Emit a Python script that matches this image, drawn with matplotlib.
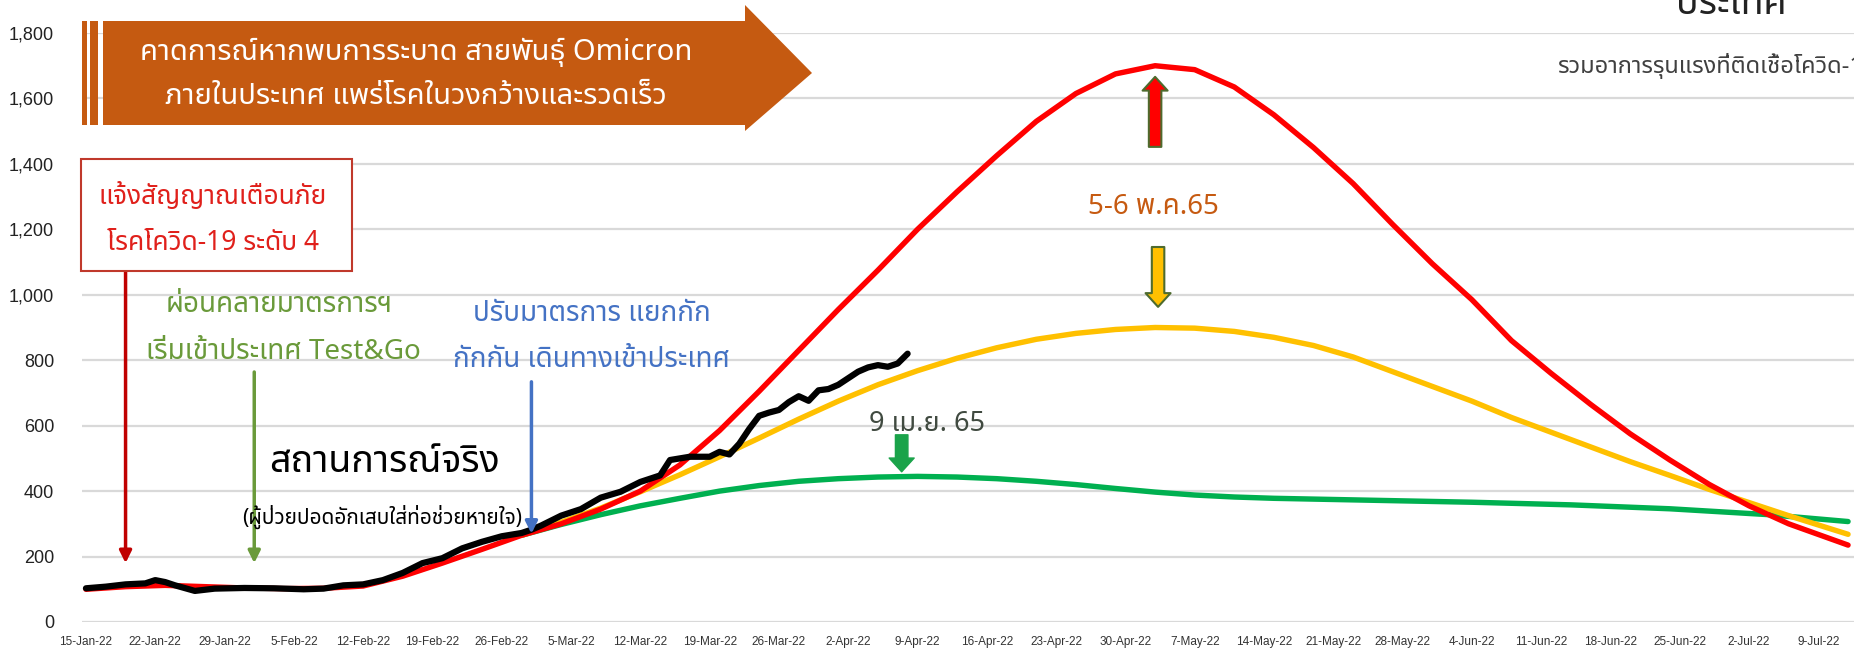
import numpy as np
import matplotlib
matplotlib.use('agg')
import matplotlib.pyplot as plt  # noqa: E402
import matplotlib.dates as mdates  # noqa: E402
from matplotlib import font_manager  # noqa: E402
from matplotlib.ft2font import FT2Font  # noqa: E402
from matplotlib.patches import Polygon, Rectangle  # noqa: E402
from matplotlib.ticker import FuncFormatter, FixedLocator  # noqa: E402

# ---- data (day offsets from 15-Jan-22, patients) ----
start_date = np.datetime64('2022-01-15')
n_weeks = 26

actual_days = [0, 2, 4, 6, 7, 8, 9, 11, 13, 16, 19, 22, 24, 26, 28, 30, 32, 34,
               36, 38, 40, 42, 44, 45, 46, 48, 50, 52, 54, 56, 58, 59, 61, 63,
               64, 65, 66, 67, 68, 69, 70, 71, 72, 73, 74, 75, 76, 77, 78, 79,
               80, 81, 82, 83]
actual_vals = [103, 108, 115, 118, 128, 122, 112, 95, 102, 104, 103, 100, 102,
               112, 115, 128, 150, 180, 195, 225, 245, 262, 272, 282, 295, 325,
               345, 380, 398, 428, 448, 495, 505, 505, 520, 512, 545, 590, 630,
               640, 648, 672, 690, 676, 708, 712, 725, 745, 765, 778, 785, 780,
               790, 820]

red_days = [0, 4, 8, 12, 16, 20, 24, 28, 32, 36, 40, 44, 48, 52, 56, 60, 64,
            68, 72, 76, 80, 84, 88, 92, 96, 100, 104, 108, 112, 116, 120, 124,
            128, 132, 136, 140, 144, 148, 152, 156, 160, 164, 168, 172, 178]
red_vals = [100, 108, 112, 108, 104, 102, 103, 110, 140, 180, 222, 265, 300,
            345, 400, 480, 585, 705, 830, 955, 1075, 1200, 1315, 1425, 1530,
            1615, 1675, 1700, 1688, 1635, 1550, 1450, 1340, 1215, 1095, 985,
            860, 760, 665, 575, 495, 420, 355, 300, 235]

yellow_days = [44, 48, 52, 56, 60, 64, 68, 72, 76, 80, 84, 88, 92, 96, 100,
               104, 108, 112, 116, 120, 124, 128, 132, 136, 140, 144, 148, 152,
               156, 160, 164, 168, 172, 178]
yellow_vals = [265, 305, 348, 398, 450, 505, 562, 620, 675, 725, 768, 806, 838,
               864, 882, 894, 900, 898, 888, 870, 845, 810, 765, 720, 675, 625,
               580, 535, 490, 448, 405, 365, 325, 268]

green_days = [44, 48, 52, 56, 60, 64, 68, 72, 76, 80, 84, 88, 92, 96, 100, 104,
              108, 112, 116, 120, 130, 140, 150, 160, 170, 178]
green_vals = [265, 298, 328, 355, 378, 400, 417, 430, 438, 443, 445, 443, 438,
              430, 420, 408, 397, 388, 382, 378, 372, 366, 358, 346, 328, 307]

y_ticks = [0, 200, 400, 600, 800, 1000, 1200, 1400, 1600, 1800]


def thai_font():
    wanted = ['Tahoma', 'Leelawadee UI', 'Noto Sans Thai', 'Noto Sans Thai UI',
              'Noto Looped Thai', 'Sarabun', 'Loma', 'Garuda', 'Waree',
              'Umpush', 'Kinnari', 'Norasi', 'Laksaman', 'Tlwg Typo']
    names = {f.name: f.fname for f in font_manager.fontManager.ttflist}
    for w in wanted:
        if w in names:
            return w
    for f in font_manager.fontManager.ttflist:
        try:
            if 0x0E01 in FT2Font(f.fname).get_charmap():
                return f.name
        except Exception:
            pass
    return 'DejaVu Sans'


TH = [thai_font(), 'DejaVu Sans']
x0 = mdates.date2num(start_date)


def X(days):
    return x0 + np.asarray(days, dtype=float)


def date_label(v, pos):
    d = mdates.num2date(v)
    return '{}-{}'.format(d.day, d.strftime('%b-%y'))


fig = plt.figure(figsize=(18.54, 6.49), dpi=100)
ax = fig.add_axes([82 / 1854, 27 / 649, (1854 - 82) / 1854, 589 / 649])
ax.set_xlim(x0 - 0.4, x0 + 178.6)
ax.set_ylim(0, 1800)

# grid
ax.set_yticks(y_ticks)
ax.yaxis.grid(True, color='#d9d9d9', lw=1.6)
ax.set_axisbelow(True)
for s in ax.spines.values():
    s.set_visible(False)
ax.yaxis.set_major_formatter(FuncFormatter(lambda v, p: f'{int(v):,}'))
ax.tick_params(axis='y', length=0, pad=20, labelsize=13, labelcolor='#222222')
ax.xaxis.set_major_locator(FixedLocator(X(np.arange(n_weeks) * 7)))
ax.xaxis.set_major_formatter(FuncFormatter(date_label))
ax.tick_params(axis='x', length=0, pad=10, labelsize=8.5, labelcolor='#333333')
for lab in ax.get_yticklabels() + ax.get_xticklabels():
    lab.set_family(['Liberation Sans Narrow', 'Liberation Sans', 'DejaVu Sans'])

# lines
ax.plot(X(green_days), green_vals, color='#00b050', lw=3.9, solid_capstyle='round', zorder=3)
ax.plot(X(yellow_days), yellow_vals, color='#ffc000', lw=3.9, solid_capstyle='round', zorder=4)
ax.plot(X(red_days), red_vals, color='#ff0000', lw=3.9, solid_capstyle='round', zorder=5)
ax.plot(X(actual_days), actual_vals, color='black', lw=4.5, solid_capstyle='round',
        solid_joinstyle='round', zorder=6)


# banner arrow (figure pixels)
def fp(x, y):
    return (x / 1854, 1 - y / 649)


banner = Polygon([fp(103, 21), fp(745, 21), fp(745, 5), fp(812, 73), fp(745, 131),
                  fp(745, 125), fp(103, 125)], closed=True, transform=fig.transFigure,
                 fc='#c55a11', ec='none', zorder=10)
fig.patches.append(banner)
for xa, xb in [(82, 87), (90, 98)]:
    fig.patches.append(Rectangle(fp(xa, 125), (xb - xa) / 1854, 104 / 649,
                                 transform=fig.transFigure, fc='#c55a11', ec='none'))
fig.text(*fp(416, 52), 'คาดการณ์หากพบการระบาด สายพันธุ์ Omicron', color='white',
         fontsize=21, ha='center', va='center', family=TH, zorder=11)
fig.text(*fp(416, 96), 'ภายในประเทศ แพร่โรคในวงกว้างและรวดเร็ว', color='white',
         fontsize=21, ha='center', va='center', family=TH, zorder=11)

# top right texts (partly cut, as in the source)
fig.text(*fp(1732, 14), 'ประเทศ', color='#222222', fontsize=27, fontweight='bold',
         ha='center', va='baseline', family=TH)
fig.text(*fp(1557, 66), 'รวมอาการรุนแรงที่ติดเชื้อโควิด-19', color='#404040',
         fontsize=17, ha='left', va='center', family=TH)

# red warning box
ax.add_patch(Rectangle((X(-0.5), 1073), 27.4, 342, fc='white', ec='#c0392b', lw=1.5,
                       zorder=8, clip_on=False))
ax.text(X(12.8), 1299, 'แจ้งสัญญาณเตือนภัย', color='#e0201b', fontsize=19,
        ha='center', va='center', family=TH, zorder=9)
ax.text(X(12.8), 1158, 'โรคโควิด-19 ระดับ 4', color='#e0201b', fontsize=19,
        ha='center', va='center', family=TH, zorder=9)

thin = dict(arrowstyle='-|>', lw=2.5, mutation_scale=18, shrinkA=0, shrinkB=0)
ax.annotate('', xy=(X(4), 180), xytext=(X(4), 1073),
            arrowprops=dict(color='#c00000', **thin), zorder=7)
ax.annotate('', xy=(X(17), 180), xytext=(X(17), 764),
            arrowprops=dict(color='#6a9a3a', **thin), zorder=7)
ax.annotate('', xy=(X(45), 270), xytext=(X(45), 734),
            arrowprops=dict(color='#4472c4', **thin), zorder=7)

ax.text(X(19.5), 969, 'ผ่อนคลายมาตรการฯ', color='#6a9a3a', fontsize=20,
        ha='center', va='center', family=TH)
ax.text(X(19.9), 825, 'เริ่มเข้าประเทศ Test&Go', color='#6a9a3a', fontsize=20,
        ha='center', va='center', family=TH)
ax.text(X(51.1), 940, 'ปรับมาตรการ แยกกัก', color='#4472c4', fontsize=20,
        ha='center', va='center', family=TH)
ax.text(X(51.1), 800, 'กักกัน เดินทางเข้าประเทศ', color='#4472c4', fontsize=20,
        ha='center', va='center', family=TH)

ax.text(X(30.2), 490, 'สถานการณ์จริง', color='black', fontsize=27,
        ha='center', va='center', family=TH, zorder=9)
ax.text(X(29.9), 321, '(ผู้ป่วยปอดอักเสบใส่ท่อช่วยหายใจ)', color='black', fontsize=15,
        ha='center', va='center', family=TH, zorder=9)

# peak markers
block = 'simple,head_length=0.55,head_width=1.0,tail_width=0.5'
ax.annotate('', xy=(X(82.4), 459), xytext=(X(82.4), 572),
            arrowprops=dict(arrowstyle=block, mutation_scale=18, fc='#1aa34a',
                            ec='#1aa34a', lw=1, shrinkA=0, shrinkB=0), zorder=9)
ax.text(X(85), 605, '9 เม.ย. 65', color='#404a40', fontsize=19.5,
        ha='center', va='center', family=TH, zorder=10)

ax.annotate('', xy=(X(108), 1666), xytext=(X(108), 1452),
            arrowprops=dict(arrowstyle=block, mutation_scale=18, fc='#ff0000',
                            ec='#4e6b2e', lw=1.5, shrinkA=0, shrinkB=0), zorder=9)
ax.annotate('', xy=(X(108.3), 963), xytext=(X(108.3), 1146),
            arrowprops=dict(arrowstyle=block, mutation_scale=18, fc='#ffc000',
                            ec='#4e6b2e', lw=1.5, shrinkA=0, shrinkB=0), zorder=9)
ax.text(X(107.8), 1268, '5-6 พ.ค.65', color='#c65a11', fontsize=20,
        ha='center', va='center', family=TH, zorder=10)

fig.savefig('out.png', dpi=100)
